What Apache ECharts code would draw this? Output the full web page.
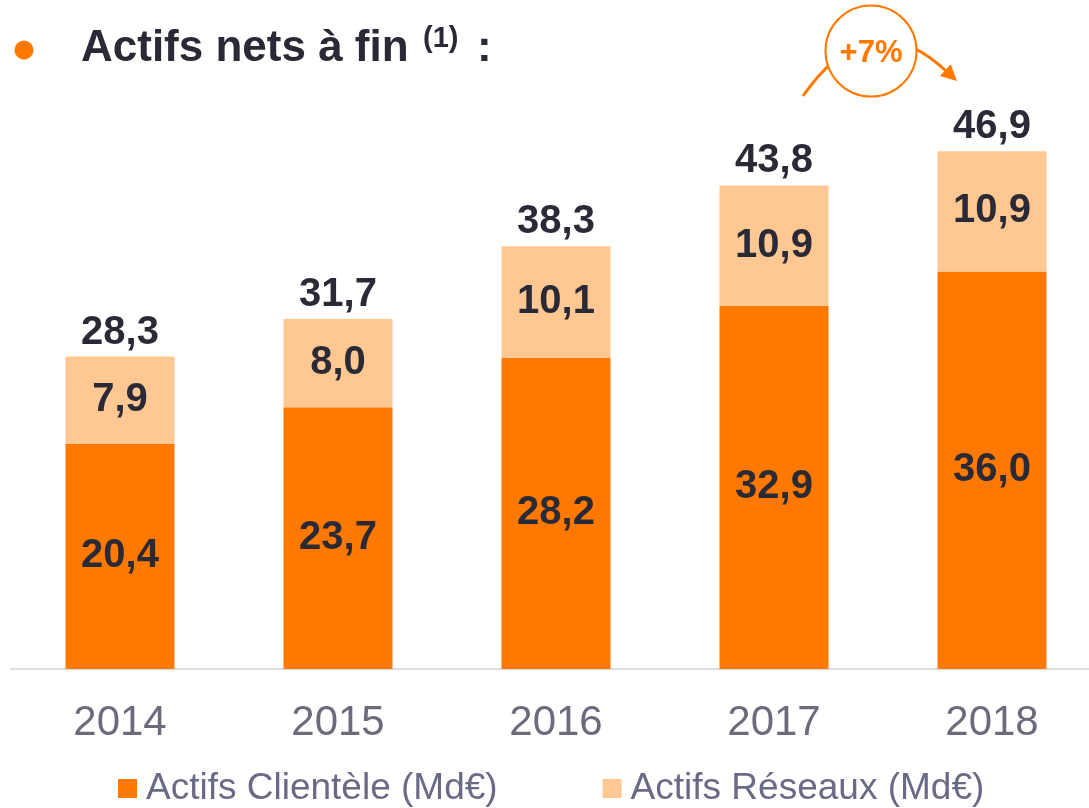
<!DOCTYPE html>
<html>
<head>
<meta charset="utf-8">
<script src="https://cdn.jsdelivr.net/npm/echarts@6/dist/echarts.min.js"></script>
<style>
  html, body { margin: 0; padding: 0; background: #fff; }
  #chart { width: 1089px; height: 808px; }
</style>
</head>
<body>
<div id="chart"></div>
<script>
// données (Md€)
const years = ["2014", "2015", "2016", "2017", "2018"];
const clientele = [20.4, 23.7, 28.2, 32.9, 36.0];
const reseaux = [7.9, 8.0, 10.1, 10.9, 10.9];
const totals = [28.3, 31.7, 38.3, 43.8, 46.9];
const seriesNames = ["Actifs Clientèle (Md€)", "Actifs Réseaux (Md€)"];

const FONT = '"Liberation Sans", Arial, sans-serif';
const ORANGE = "#FF7900";
const PEACH = "#FFC893";
const DARK = "#2a2a36";

const fmt = (v) => v.toFixed(1).replace(".", ",");

let myChart = echarts.init(document.getElementById("chart"));

let option = {
  animation: false,
  textStyle: { fontFamily: FONT },
  grid: { left: 11, right: -12, top: 117, bottom: 139, outerBoundsMode: "none" },
  legend: {
    data: seriesNames,
    left: 118,
    top: 770,
    padding: 0,
    icon: "rect",
    itemWidth: 19,
    itemHeight: 19,
    itemGap: 105,
    textStyle: { fontSize: 37, color: "#6a6a86", fontFamily: FONT, padding: [0, 0, 0, 4] },
  },
  xAxis: {
    type: "category",
    data: years,
    axisLine: { lineStyle: { color: "#dcdce3", width: 2 } },
    axisTick: { show: false },
    axisLabel: { fontSize: 42, color: "#6b6b7b", margin: 33, fontFamily: FONT },
  },
  yAxis: {
    type: "value",
    min: 0,
    max: 50,
    show: false,
    splitLine: { show: false },
  },
  series: [
    {
      name: seriesNames[0],
      type: "bar",
      stack: "actifs",
      barWidth: "50%",
      data: clientele,
      itemStyle: { color: ORANGE },
      label: {
        show: true,
        position: "inside",
        fontSize: 40,
        fontWeight: "bold",
        color: DARK,
        fontFamily: FONT,
        formatter: (p) => fmt(p.value),
      },
    },
    {
      name: seriesNames[1],
      type: "bar",
      stack: "actifs",
      barWidth: "50%",
      data: reseaux,
      itemStyle: { color: PEACH },
      label: {
        show: true,
        position: "inside",
        fontSize: 40,
        fontWeight: "bold",
        color: DARK,
        fontFamily: FONT,
        formatter: (p) => fmt(p.value),
      },
    },
    {
      // total au-dessus de chaque barre
      name: "Total",
      type: "bar",
      barWidth: "50%",
      barGap: "-100%",
      z: 1,
      data: totals,
      itemStyle: { color: "rgba(0,0,0,0)" },
      label: {
        show: true,
        position: "top",
        distance: 4,
        fontSize: 40,
        fontWeight: "bold",
        color: DARK,
        fontFamily: FONT,
        formatter: (p) => fmt(p.value),
      },
    },
  ],
  graphic: [
    // puce + titre
    { type: "circle", shape: { cx: 24, cy: 50, r: 9.5 }, style: { fill: ORANGE } },
    {
      type: "text",
      x: 81,
      y: 49,
      style: { text: "Actifs nets à fin", font: "bold 44px " + FONT, fill: DARK, verticalAlign: "middle" },
    },
    {
      type: "text",
      x: 423,
      y: 39,
      style: { text: "(1)", font: "bold 29px " + FONT, fill: DARK, verticalAlign: "middle" },
    },
    {
      type: "text",
      x: 477,
      y: 49,
      style: { text: ":", font: "bold 44px " + FONT, fill: DARK, verticalAlign: "middle" },
    },
    // flèche +7%
    {
      type: "bezierCurve",
      shape: { x1: 803, y1: 96, cpx1: 870, cpy1: 0, x2: 946, y2: 71 },
      style: { stroke: ORANGE, lineWidth: 3, fill: null },
    },
    {
      type: "polygon",
      shape: { points: [[957, 81], [939.9, 76], [950.7, 64.2]] },
      style: { fill: ORANGE },
    },
    {
      type: "circle",
      shape: { cx: 871, cy: 51, r: 45.5 },
      style: { fill: "#fff", stroke: ORANGE, lineWidth: 2 },
    },
    {
      type: "text",
      x: 871,
      y: 53,
      style: { text: "+7%", font: "bold 31px " + FONT, fill: ORANGE, align: "center", verticalAlign: "middle" },
    },
  ],
};

myChart.setOption(option);
</script>
</body>
</html>
